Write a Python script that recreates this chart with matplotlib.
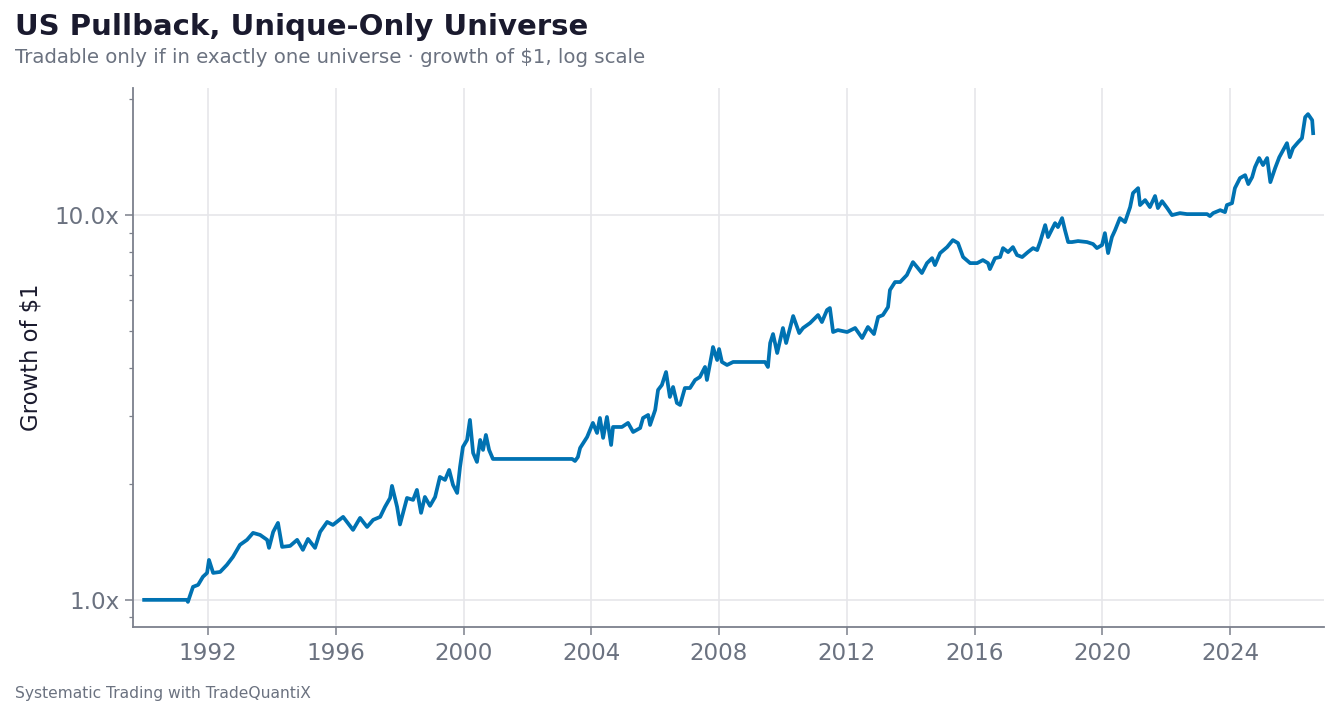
import matplotlib
matplotlib.use('Agg')
import matplotlib.pyplot as plt
from matplotlib.ticker import FixedLocator, FuncFormatter, LogLocator, NullFormatter

# growth of $1 (decimal year, multiple)
years = [
    1990.00, 1991.34, 1991.37, 1991.53, 1991.69, 1991.84, 1991.97, 1992.03, 1992.16, 1992.38,
    1992.59, 1992.78, 1993.00, 1993.22, 1993.41, 1993.63, 1993.85, 1993.91, 1994.04, 1994.19,
    1994.32, 1994.57, 1994.79, 1994.97, 1995.13, 1995.35, 1995.51, 1995.73, 1995.91, 1996.23,
    1996.54, 1996.76, 1996.98, 1997.17, 1997.39, 1997.54, 1997.70, 1997.76, 1997.92, 1998.01,
    1998.23, 1998.42, 1998.54, 1998.67, 1998.79, 1998.95, 1999.11, 1999.26, 1999.42, 1999.55,
    1999.67, 1999.80, 1999.89, 1999.98, 2000.11, 2000.20, 2000.30, 2000.42, 2000.52, 2000.61,
    2000.70, 2000.80, 2000.92, 2003.40, 2003.49, 2003.58, 2003.65, 2003.87, 2004.05, 2004.18,
    2004.27, 2004.37, 2004.49, 2004.62, 2004.68, 2004.96, 2005.15, 2005.31, 2005.53, 2005.62,
    2005.78, 2005.84, 2006.00, 2006.09, 2006.21, 2006.34, 2006.46, 2006.56, 2006.68, 2006.78,
    2006.93, 2007.09, 2007.25, 2007.40, 2007.56, 2007.62, 2007.78, 2007.81, 2007.94, 2008.00,
    2008.09, 2008.25, 2008.44, 2009.44, 2009.53, 2009.60, 2009.69, 2009.82, 2010.00, 2010.10,
    2010.32, 2010.51, 2010.63, 2010.85, 2011.10, 2011.22, 2011.38, 2011.47, 2011.57, 2011.72,
    2012.01, 2012.26, 2012.48, 2012.66, 2012.85, 2012.98, 2013.13, 2013.29, 2013.35, 2013.51,
    2013.67, 2013.88, 2014.07, 2014.20, 2014.35, 2014.51, 2014.67, 2014.76, 2014.92, 2015.14,
    2015.32, 2015.48, 2015.64, 2015.86, 2016.08, 2016.26, 2016.42, 2016.48, 2016.64, 2016.80,
    2016.89, 2017.05, 2017.20, 2017.33, 2017.49, 2017.67, 2017.83, 2017.96, 2018.05, 2018.21,
    2018.30, 2018.52, 2018.61, 2018.74, 2018.83, 2018.93, 2019.05, 2019.24, 2019.52, 2019.71,
    2019.83, 2019.99, 2020.08, 2020.18, 2020.30, 2020.40, 2020.55, 2020.71, 2020.87, 2020.96,
    2021.12, 2021.18, 2021.34, 2021.49, 2021.65, 2021.74, 2021.87, 2022.03, 2022.18, 2022.43,
    2022.65, 2023.28, 2023.37, 2023.47, 2023.69, 2023.84, 2023.90, 2024.06, 2024.15, 2024.31,
    2024.47, 2024.57, 2024.69, 2024.78, 2024.91, 2025.03, 2025.16, 2025.26, 2025.41, 2025.54,
    2025.78, 2025.87, 2025.97, 2026.13, 2026.25, 2026.35, 2026.44, 2026.57, 2026.60,
]
growth = [
    1.000, 1.000, 0.988, 1.081, 1.094, 1.148, 1.175, 1.270, 1.175, 1.182,
    1.233, 1.293, 1.390, 1.432, 1.493, 1.475, 1.432, 1.365, 1.502, 1.585,
    1.373, 1.381, 1.432, 1.349, 1.440, 1.365, 1.502, 1.594, 1.566, 1.643,
    1.520, 1.633, 1.547, 1.614, 1.643, 1.744, 1.840, 1.978, 1.744, 1.570,
    1.840, 1.819, 1.931, 1.683, 1.851, 1.755, 1.851, 2.087, 2.050, 2.176,
    1.990, 1.896, 2.215, 2.497, 2.604, 2.935, 2.409, 2.283, 2.604, 2.453,
    2.683, 2.453, 2.324, 2.324, 2.296, 2.351, 2.482, 2.651, 2.883, 2.715,
    2.970, 2.636, 2.988, 2.527, 2.814, 2.814, 2.883, 2.731, 2.797, 2.970,
    3.024, 2.848, 3.116, 3.512, 3.618, 3.910, 3.368, 3.575, 3.249, 3.210,
    3.553, 3.553, 3.728, 3.795, 4.030, 3.728, 4.381, 4.541, 4.201, 4.487,
    4.152, 4.078, 4.152, 4.152, 4.030, 4.651, 4.908, 4.381, 5.088, 4.651,
    5.466, 4.937, 5.088, 5.243, 5.499, 5.273, 5.667, 5.735, 4.967, 5.026,
    4.967, 5.088, 4.792, 5.119, 4.908, 5.433, 5.499, 5.768, 6.386, 6.699,
    6.699, 6.986, 7.548, 7.326, 7.070, 7.503, 7.730, 7.414, 7.966, 8.258,
    8.611, 8.459, 7.780, 7.503, 7.503, 7.640, 7.503, 7.239, 7.730, 7.780,
    8.208, 8.014, 8.258, 7.871, 7.780, 8.014, 8.208, 8.111, 8.510, 9.419,
    8.768, 9.532, 9.307, 9.822, 9.141, 8.510, 8.510, 8.561, 8.510, 8.409,
    8.208, 8.359, 8.978, 7.966, 8.768, 9.141, 9.822, 9.590, 10.49, 11.41,
    11.75, 10.62, 10.94, 10.49, 11.21, 10.43, 10.87, 10.43, 10.00, 10.12,
    10.06, 10.06, 9.94, 10.12, 10.30, 10.18, 10.62, 10.74, 11.75, 12.48,
    12.70, 12.04, 12.55, 13.33, 14.07, 13.49, 14.07, 12.18, 13.25, 14.14,
    15.38, 14.14, 14.93, 15.47, 15.85, 17.97, 18.30, 17.65, 16.33,
]

year_ticks = list(range(1992, 2025, 4))
growth_ticks = [1.0, 10.0]

ink = '#1a1a2e'
muted = '#6b7280'
axis_gray = '#7c808c'
grid_gray = '#e6e6ea'
blue = '#0072B2'

fig = plt.figure(figsize=(13.39, 7.17), dpi=100)
ax = fig.add_axes([0.0993, 0.1255, 0.8895, 0.7518])

ax.plot(years, growth, color=blue, lw=2.7, solid_joinstyle='round')

ax.set_yscale('log')
ax.set_xlim(1989.65, 2026.94)
ax.set_ylim(0.85, 21.4)

ax.xaxis.set_major_locator(FixedLocator(year_ticks))
ax.xaxis.set_major_formatter(FuncFormatter(lambda v, p: f'{int(v)}'))
ax.yaxis.set_major_locator(FixedLocator(growth_ticks))
ax.yaxis.set_major_formatter(FuncFormatter(lambda v, p: f'{v:.1f}x'))
ax.yaxis.set_minor_locator(LogLocator(base=10, subs=range(2, 10)))
ax.yaxis.set_minor_formatter(NullFormatter())

ax.grid(True, which='major', color=grid_gray, lw=1.2)
ax.set_axisbelow(True)

for s in ['top', 'right']:
    ax.spines[s].set_visible(False)
for s in ['left', 'bottom']:
    ax.spines[s].set_color(axis_gray)
    ax.spines[s].set_linewidth(1.3)

ax.tick_params(axis='both', which='major', colors=axis_gray, labelcolor=muted,
               labelsize=16.6, length=6, width=1.1)
ax.tick_params(axis='y', which='minor', colors=axis_gray, length=3, width=0.9)
ax.tick_params(axis='x', pad=5)

ax.set_ylabel('Growth of $1', fontsize=16.4, color=ink, labelpad=9)

fig.text(0.011, 0.962, 'US Pullback, Unique-Only Universe', fontsize=21,
         fontweight='bold', color=ink, va='center', ha='left')
fig.text(0.011, 0.920, 'Tradable only if in exactly one universe \u00b7 growth of $1, log scale',
         fontsize=14.2, color=muted, va='center', ha='left')
fig.text(0.011, 0.033, 'Systematic Trading with TradeQuantiX', fontsize=11.2,
         color=muted, va='center', ha='left')

fig.savefig('out.png', dpi=100)
